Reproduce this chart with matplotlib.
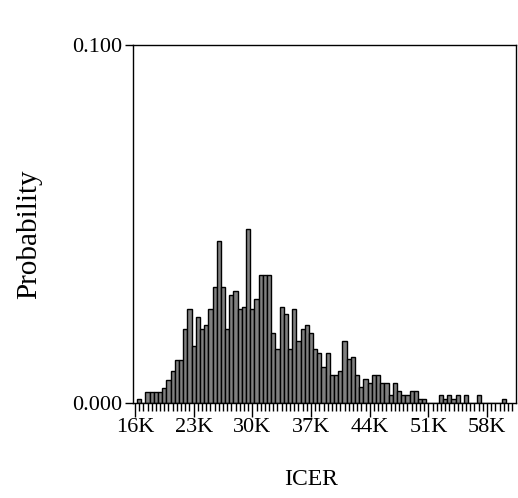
import numpy as np
import matplotlib.pyplot as plt
from matplotlib.ticker import MultipleLocator

# histogram of ICER, bins of 500 centred on multiples of 500
bin_start = 16500
bin_width = 500
probs = [0.0010, 0.0, 0.0032, 0.0032, 0.0032, 0.0032, 0.0043, 0.0065, 0.0088, 0.0121,
         0.0121, 0.0207, 0.0262, 0.0160, 0.0240, 0.0206, 0.0217, 0.0262, 0.0323, 0.0452,
         0.0323, 0.0206, 0.0301, 0.0312, 0.0262, 0.0267, 0.0486, 0.0262, 0.0290, 0.0358,
         0.0358, 0.0358, 0.0195, 0.0151, 0.0267, 0.0249, 0.0151, 0.0262, 0.0172, 0.0207,
         0.0218, 0.0196, 0.0151, 0.0140, 0.0101, 0.0140, 0.0077, 0.0077, 0.0089, 0.0173,
         0.0122, 0.0128, 0.0077, 0.0044, 0.0066, 0.0055, 0.0077, 0.0077, 0.0055, 0.0055,
         0.0021, 0.0055, 0.0033, 0.0021, 0.0021, 0.0033, 0.0033, 0.0011, 0.0011, 0.0,
         0.0, 0.0, 0.0022, 0.0011, 0.0022, 0.0011, 0.0022, 0.0, 0.0022, 0.0,
         0.0, 0.0022, 0.0, 0.0, 0.0, 0.0, 0.0, 0.0011]
centers = bin_start + bin_width * np.arange(len(probs))

xticks = [16000, 23000, 30000, 37000, 44000, 51000, 58000]
xtick_labels = ['16K', '23K', '30K', '37K', '44K', '51K', '58K']
yticks = [0.0, 0.1]
ytick_labels = ['0.000', '0.100']

plt.rcParams['font.family'] = ['Liberation Serif', 'DejaVu Serif']

fig = plt.figure(figsize=(5.18, 4.98), dpi=100)
ax = fig.add_axes([0.2568, 0.1908, 0.7390, 0.7188])

ax.bar(centers, probs, width=bin_width, color='#808080', edgecolor='black', linewidth=1.0)

ax.set_xlim(15770, 61430)
ax.set_ylim(0, 0.1)
ax.set_xticks(xticks)
ax.set_xticklabels(xtick_labels)
ax.xaxis.set_minor_locator(MultipleLocator(500))
ax.set_yticks(yticks)
ax.set_yticklabels(ytick_labels)

ax.tick_params(axis='both', which='major', labelsize=16, direction='out', width=1)
ax.tick_params(axis='x', which='major', length=10, pad=1)
ax.tick_params(axis='y', which='major', length=6, pad=2)
ax.tick_params(axis='x', which='minor', direction='out', length=5.8, width=1)

for s in ax.spines.values():
    s.set_linewidth(1)

ax.set_xlabel('ICER', fontsize=17)
ax.xaxis.set_label_coords(0.465, -0.185)
ax.set_ylabel('Probability', fontsize=21)
ax.yaxis.set_label_coords(-0.237, 0.472)

fig.savefig('out.png', dpi=100)
